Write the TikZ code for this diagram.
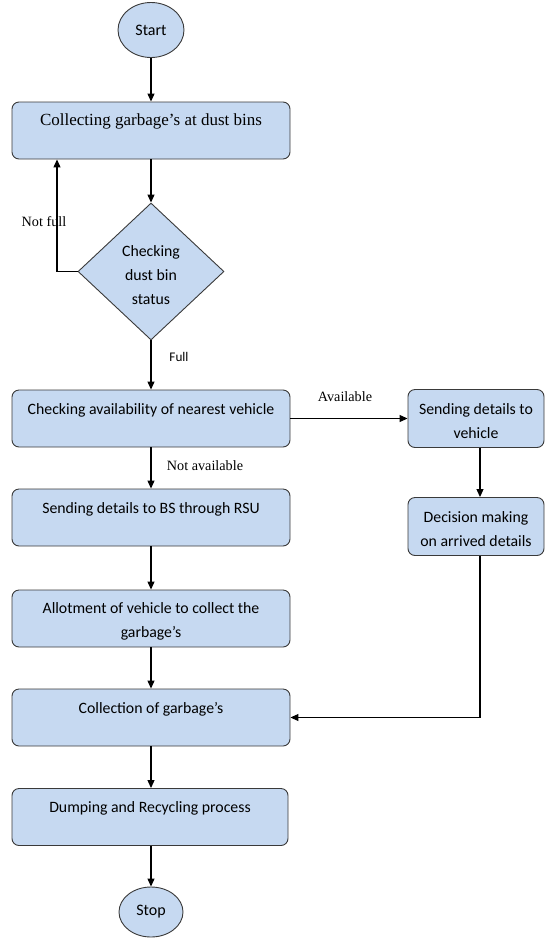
\documentclass[tikz,border=0pt]{standalone}
\usepackage{fontspec}
\setmainfont{Liberation Serif}
\newfontfamily\calib{Carlito}
\usetikzlibrary{shapes.geometric,arrows.meta}
\definecolor{boxblue}{HTML}{C6D9F1}
\definecolor{edgegray}{HTML}{3A3A3A}
\newcommand\tallfirst[1]{\rule{0pt}{#1}}
\begin{document}
\begin{tikzpicture}[x=1pt,y=-1pt,
  box/.style={draw=edgegray, fill=boxblue, rounded corners=7pt, minimum width=278pt,
    minimum height=57pt, inner sep=0pt, align=center, line width=0.9pt,
    font=\calib\fontsize{15.8}{24}\selectfont},
  rbox/.style={box, minimum width=136pt, minimum height=58pt},
  term/.style={draw=edgegray, fill=boxblue, ellipse, inner sep=0pt, line width=0.9pt,
    font=\calib\fontsize{16}{18}\selectfont},
  decision/.style={draw=edgegray, fill=boxblue, diamond, inner sep=0pt, aspect=1.07,
    minimum width=146pt, minimum height=137pt, line width=0.9pt, align=center,
    font=\calib\fontsize{15.8}{24}\selectfont},
  arr/.style={-{Triangle[length=8pt,width=7pt]}, line width=1.1pt, black},
  serlab/.style={font=\fontsize{14.2}{16}\selectfont, inner sep=0pt},
  sanslab/.style={font=\calib\fontsize{13.2}{15}\selectfont, inner sep=0pt}
]
\useasboundingbox (0,0) rectangle (545,938);

\node[term, minimum width=66pt, minimum height=55pt] (start) at (151,30) {Start};
\node[box, font=\fontsize{17}{24}\selectfont] (b1) at (151,130.5) {Collecting garbage’s at dust bins\\[-10pt]\strut};
\node[decision] (dia) at (151,271.5) {\tallfirst{19pt}Checking\\dust bin\\status};
\node[box] (b2) at (151,418.5) {Checking availability of nearest vehicle\\[-12pt]\strut};
\node[rbox] (r1) at (476,418.5) {\tallfirst{17pt}Sending details to\\vehicle};
\node[rbox] (r2) at (476,526.5) {\tallfirst{16pt}Decision making\\on arrived details};
\node[box] (b3) at (151,517.5) {Sending details to BS through RSU\\[-12pt]\strut};
\node[box] (b4) at (151,618.5) {\tallfirst{17pt}Allotment of vehicle to collect the\\garbage’s};
\node[box] (b5) at (151,717.5) {Collection of garbage’s\\[-12pt]\strut};
\node[box, minimum width=276pt] (b6) at (150,817) {Dumping and Recycling process\\[-12pt]\strut};
\node[term, minimum width=64pt, minimum height=50pt] (stop) at (151,912) {Stop};

\coordinate (nfx) at (57,0);
\coordinate (rx) at (480,0);

\draw[arr] (start.south) -- (b1.north);
\draw[arr] (b1.south) -- (dia.north);
\draw[arr] (dia.west) -- (dia.west -| nfx) -- (b1.south -| nfx);
\draw[arr] (dia.south) -- (b2.north);
\draw[arr] (b2.east) -- (r1.west);
\draw[arr] (b2.south) -- (b3.north);
\draw[arr] (r1.south -| rx) -- (r2.north -| rx);
\draw[arr] (r2.south -| rx) -- (rx |- b5.east) -- (b5.east);
\draw[arr] (b3.south) -- (b4.north);
\draw[arr] (b4.south) -- (b5.north);
\draw[arr] (b5.south) -- (b6.north -| b5.south);
\draw[arr] (b6.south -| stop.north) -- (stop.north);

\node[serlab] (lnf) at (44,222) {Not full};
\node[sanslab] (lfull) at (179,357) {Full};
\node[serlab] (lav) at (345,397) {Available};
\node[serlab] (lnav) at (205,466) {Not available};
\end{tikzpicture}
\end{document}
